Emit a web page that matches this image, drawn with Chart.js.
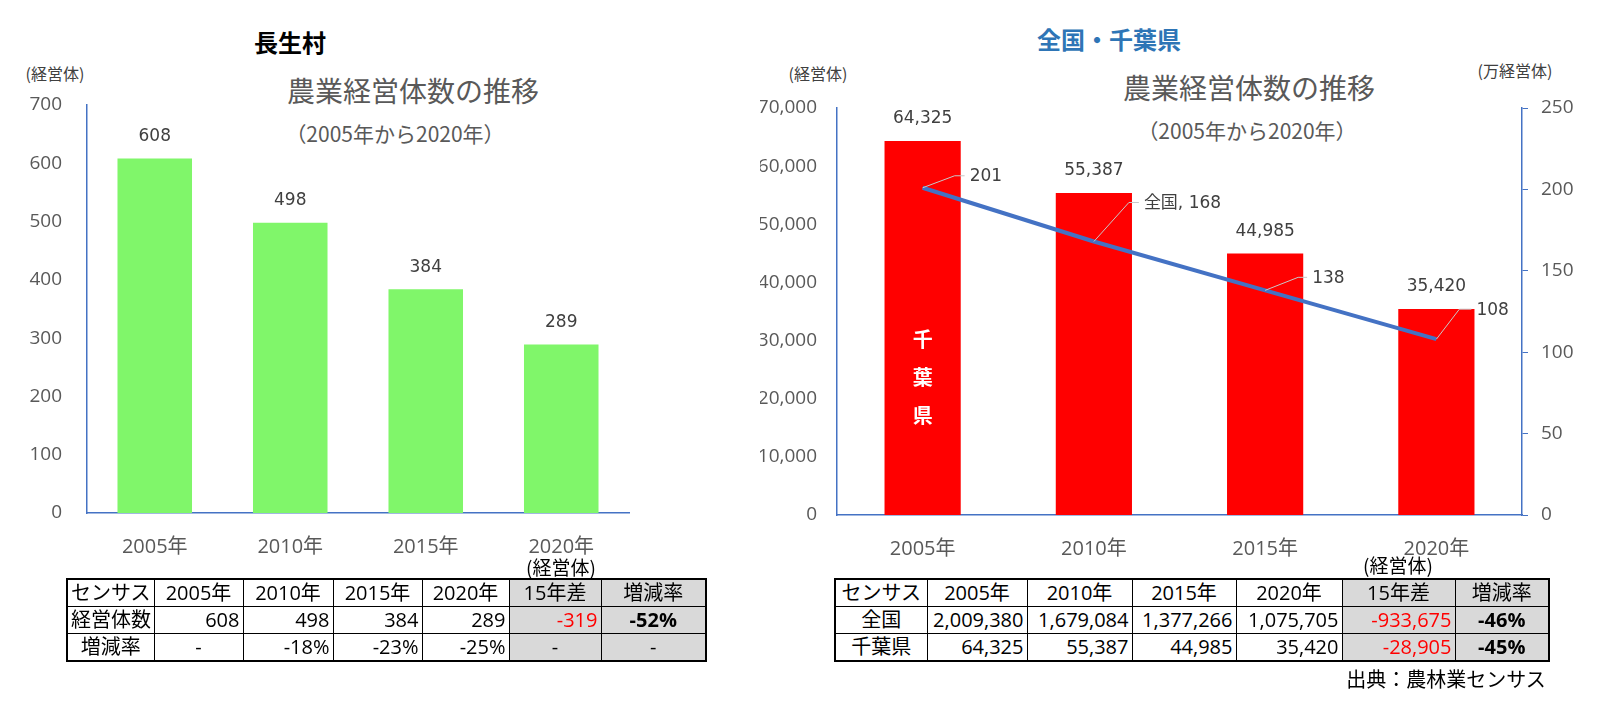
<!DOCTYPE html>
<html>
<head>
<meta charset="utf-8">
<script src="https://cdn.jsdelivr.net/npm/chart.js@4"></script>
<style>
  body { margin: 0; width: 1605px; height: 718px; background: #fff; position: relative; overflow: hidden;
         font-family: "Noto Sans CJK JP", "Noto Sans", sans-serif; }
  .t { position: absolute; transform: translate(-50%, -50%); white-space: nowrap; line-height: 1; }
  canvas { position: absolute; top: 0; }
  table { position: absolute; border-collapse: collapse; table-layout: fixed; border: 2px solid #000;
          font-family: "Open Sans", "Noto Sans CJK JP", sans-serif; font-size: 20px; color: #000; }
  td { border: 1px solid #000; padding: 0 3px; line-height: 1; white-space: nowrap; overflow: hidden; }
  tr { height: 27.3px; }
  td.c { text-align: center; }
  td.r { text-align: right; }
  td.g { background: #d9d9d9; }
  td.red { color: #ff0000; }
  td.b { font-weight: bold; }
</style>
</head>
<body>
<div class="t" style="left:290px;top:42px;font-size:24px;font-weight:bold;">長生村</div>
<div class="t" style="left:55px;top:73px;font-size:16px;color:#404040;">(経営体)</div>
<div class="t" style="left:413px;top:90px;font-size:28px;color:#595959;">農業経営体数の推移</div>
<div class="t" style="left:395px;top:133px;font-size:21px;color:#595959;">（2005年から2020年）</div>

<div class="t" style="left:1109px;top:39px;font-size:24px;font-weight:bold;color:#2e75b6;">全国・千葉県</div>
<div class="t" style="left:818px;top:73px;font-size:16px;color:#404040;">(経営体)</div>
<div class="t" style="left:1515px;top:70px;font-size:16px;color:#404040;">(万経営体)</div>
<div class="t" style="left:1249px;top:87px;font-size:28px;color:#595959;">農業経営体数の推移</div>
<div class="t" style="left:1247px;top:130px;font-size:21px;color:#595959;">（2005年から2020年）</div>

<canvas id="nagao" width="700" height="570" style="left:0;width:700px;height:570px;"></canvas>
<canvas id="chiba" width="845" height="570" style="left:760px;width:845px;height:570px;"></canvas>

<div class="t" style="left:561px;top:566px;font-size:19px;">(経営体)</div>
<div class="t" style="left:1398px;top:564px;font-size:19px;">(経営体)</div>
<table id="nagao-table" style="left:66px;top:578px;width:641px;"></table>
<table id="chiba-table" style="left:834px;top:578px;width:714px;"></table>
<div class="t" style="left:1446px;top:679px;font-size:20px;">出典：農林業センサス</div>

<script>
const years = ["2005年", "2010年", "2015年", "2020年"];
const nagaoFarms = [608, 498, 384, 289];
const chibaFarms = [64325, 55387, 44985, 35420];
const zenkokuFarms = [2009380, 1679084, 1377266, 1075705];
const zenkokuMan = [201, 168, 138, 108]; // 万経営体
const zenkokuPrefix = ["", "全国, ", "", ""];

const nagaoMax = 700, nagaoStep = 100;
const chibaMax = 70000, chibaStep = 10000;
const manMax = 250, manStep = 50;

const axisBlue = "#4472C4";
const tickGray = "#595959";
const tickFamily = '"Open Sans", "Noto Sans CJK JP", sans-serif';
Chart.defaults.font.family = '"Noto Sans CJK JP", "Noto Sans", sans-serif';
Chart.defaults.animation = false;

const fmt = (v) => v.toLocaleString("en-US");

// number above each bar
const barLabels = {
  id: "barLabels",
  afterDatasetsDraw(chart) {
    const ctx = chart.ctx;
    const meta = chart.getDatasetMeta(0);
    ctx.save();
    ctx.font = '17px "DejaVu Sans"';
    ctx.fillStyle = "#404040";
    ctx.textAlign = "center";
    ctx.textBaseline = "middle";
    meta.data.forEach((bar, i) => {
      ctx.fillText(fmt(chart.data.datasets[0].data[i]), bar.x, bar.y - 22);
    });
    ctx.restore();
  },
};

// leader-line labels for the 全国 line: [knee dx, knee dy, end dx]
const leaderOffsets = [[32, -12, 42], [35, -39, 45], [33, -13, 42], [23, -30, 35]];
const lineLabels = {
  id: "lineLabels",
  afterDatasetsDraw(chart) {
    const ctx = chart.ctx;
    const meta = chart.getDatasetMeta(1);
    ctx.save();
    meta.data.forEach((pt, i) => {
      const [kx, ky, ex] = leaderOffsets[i];
      ctx.strokeStyle = "#c8c8c8";
      ctx.lineWidth = 1;
      ctx.beginPath();
      ctx.moveTo(pt.x, pt.y);
      ctx.lineTo(pt.x + kx, pt.y + ky);
      ctx.lineTo(pt.x + ex, pt.y + ky);
      ctx.stroke();
      ctx.font = '17px "DejaVu Sans", "Noto Sans CJK JP"';
      ctx.fillStyle = "#404040";
      ctx.textAlign = "left";
      ctx.textBaseline = "middle";
      ctx.fillText(zenkokuPrefix[i] + zenkokuMan[i], pt.x + ex + 5, pt.y + ky + 1);
    });
    // 千葉県 written down the first bar
    const bar = chart.getDatasetMeta(0).data[0];
    ctx.font = 'bold 20px "Noto Sans CJK JP"';
    ctx.fillStyle = "#ffffff";
    ctx.textAlign = "center";
    ["千", "葉", "県"].forEach((ch, k) => ctx.fillText(ch, bar.x, 339 + k * 38));
    ctx.restore();
  },
};

new Chart(document.getElementById("nagao"), {
  type: "bar",
  data: {
    labels: years,
    datasets: [{
      data: nagaoFarms,
      backgroundColor: "#80f66a",
      categoryPercentage: 1,
      barPercentage: 0.55,
    }],
  },
  options: {
    responsive: false,
    layout: { padding: { top: 105, right: 71, left: 0, bottom: 0 } },
    plugins: { legend: { display: false }, tooltip: { enabled: false } },
    scales: {
      x: {
        grid: { display: false, drawTicks: false },
        border: { color: axisBlue, width: 1.5 },
        ticks: { color: tickGray, font: { size: 20, family: tickFamily }, padding: 22, maxRotation: 0 },
        afterFit(s) { s.height = 57; },
      },
      y: {
        min: 0, max: nagaoMax,
        grid: { display: false, drawTicks: false },
        border: { color: axisBlue, width: 1.5 },
        ticks: { stepSize: nagaoStep, color: tickGray, font: { size: 19, family: tickFamily }, padding: 25 },
        afterFit(s) { s.width = 87; },
      },
    },
  },
  plugins: [barLabels],
});

new Chart(document.getElementById("chiba"), {
  type: "bar",
  data: {
    labels: years,
    datasets: [
      {
        type: "bar",
        data: chibaFarms,
        backgroundColor: "#ff0000",
        categoryPercentage: 1,
        barPercentage: 0.445,
        yAxisID: "y",
        order: 1,
      },
      {
        type: "line",
        data: zenkokuMan,
        borderColor: axisBlue,
        borderWidth: 4,
        pointRadius: 0,
        yAxisID: "y1",
        order: 0,
      },
    ],
  },
  options: {
    responsive: false,
    layout: { padding: { top: 108, right: 0, left: 0, bottom: 0 } },
    plugins: { legend: { display: false }, tooltip: { enabled: false } },
    scales: {
      x: {
        grid: { display: false, drawTicks: false },
        border: { color: axisBlue, width: 1.5 },
        ticks: { color: tickGray, font: { size: 20, family: tickFamily }, padding: 22, maxRotation: 0 },
        afterFit(s) { s.height = 55; },
      },
      y: {
        position: "left",
        min: 0, max: chibaMax,
        grid: { display: false, drawTicks: false },
        border: { color: axisBlue, width: 1.5 },
        ticks: { stepSize: chibaStep, color: tickGray, font: { size: 19, family: tickFamily }, padding: 20, callback: (v) => fmt(v) },
        afterFit(s) { s.width = 77; },
      },
      y1: {
        position: "right",
        min: 0, max: manMax,
        grid: { display: true, drawOnChartArea: false, drawTicks: true, tickLength: 6, color: axisBlue },
        border: { color: axisBlue, width: 1.5 },
        ticks: { stepSize: manStep, color: tickGray, font: { size: 19, family: tickFamily }, padding: 13 },
        afterFit(s) { s.width = 83; },
      },
    },
  },
  plugins: [barLabels, lineLabels],
});

// tables
function pct(a, b) { return Math.round((b - a) / a * 100) + "%"; }
function row(cells) {
  return "<tr>" + cells.map(([txt, cls]) => `<td class="${cls}">${txt}</td>`).join("") + "</tr>";
}
function colgroup(widths) {
  return "<colgroup>" + widths.map((w) => `<col style="width:${w}px">`).join("") + "</colgroup>";
}

const last = years.length - 1;
let html = colgroup([87, 89, 90, 89, 87, 92, 105]);
html += row([["センサス", "c"], ...years.map((y) => [y, "c"]), ["15年差", "c g"], ["増減率", "c g"]]);
html += row([["経営体数", "c"], ...nagaoFarms.map((v) => [fmt(v), "r"]),
  [fmt(nagaoFarms[last] - nagaoFarms[0]), "r g red"], [pct(nagaoFarms[0], nagaoFarms[last]), "c g b"]]);
html += row([["増減率", "c"], ...nagaoFarms.map((v, i) => i === 0 ? ["-", "c"] : [pct(nagaoFarms[i - 1], v), "r"]),
  ["-", "c g"], ["-", "c g"]]);
document.getElementById("nagao-table").innerHTML = html;

html = colgroup([92, 100, 105, 104, 106, 113, 94]);
html += row([["センサス", "c"], ...years.map((y) => [y, "c"]), ["15年差", "c g"], ["増減率", "c g"]]);
html += row([["全国", "c"], ...zenkokuFarms.map((v) => [fmt(v), "r"]),
  [fmt(zenkokuFarms[last] - zenkokuFarms[0]), "r g red"], [pct(zenkokuFarms[0], zenkokuFarms[last]), "c g b"]]);
html += row([["千葉県", "c"], ...chibaFarms.map((v) => [fmt(v), "r"]),
  [fmt(chibaFarms[last] - chibaFarms[0]), "r g red"], [pct(chibaFarms[0], chibaFarms[last]), "c g b"]]);
document.getElementById("chiba-table").innerHTML = html;
</script>
</body>
</html>
